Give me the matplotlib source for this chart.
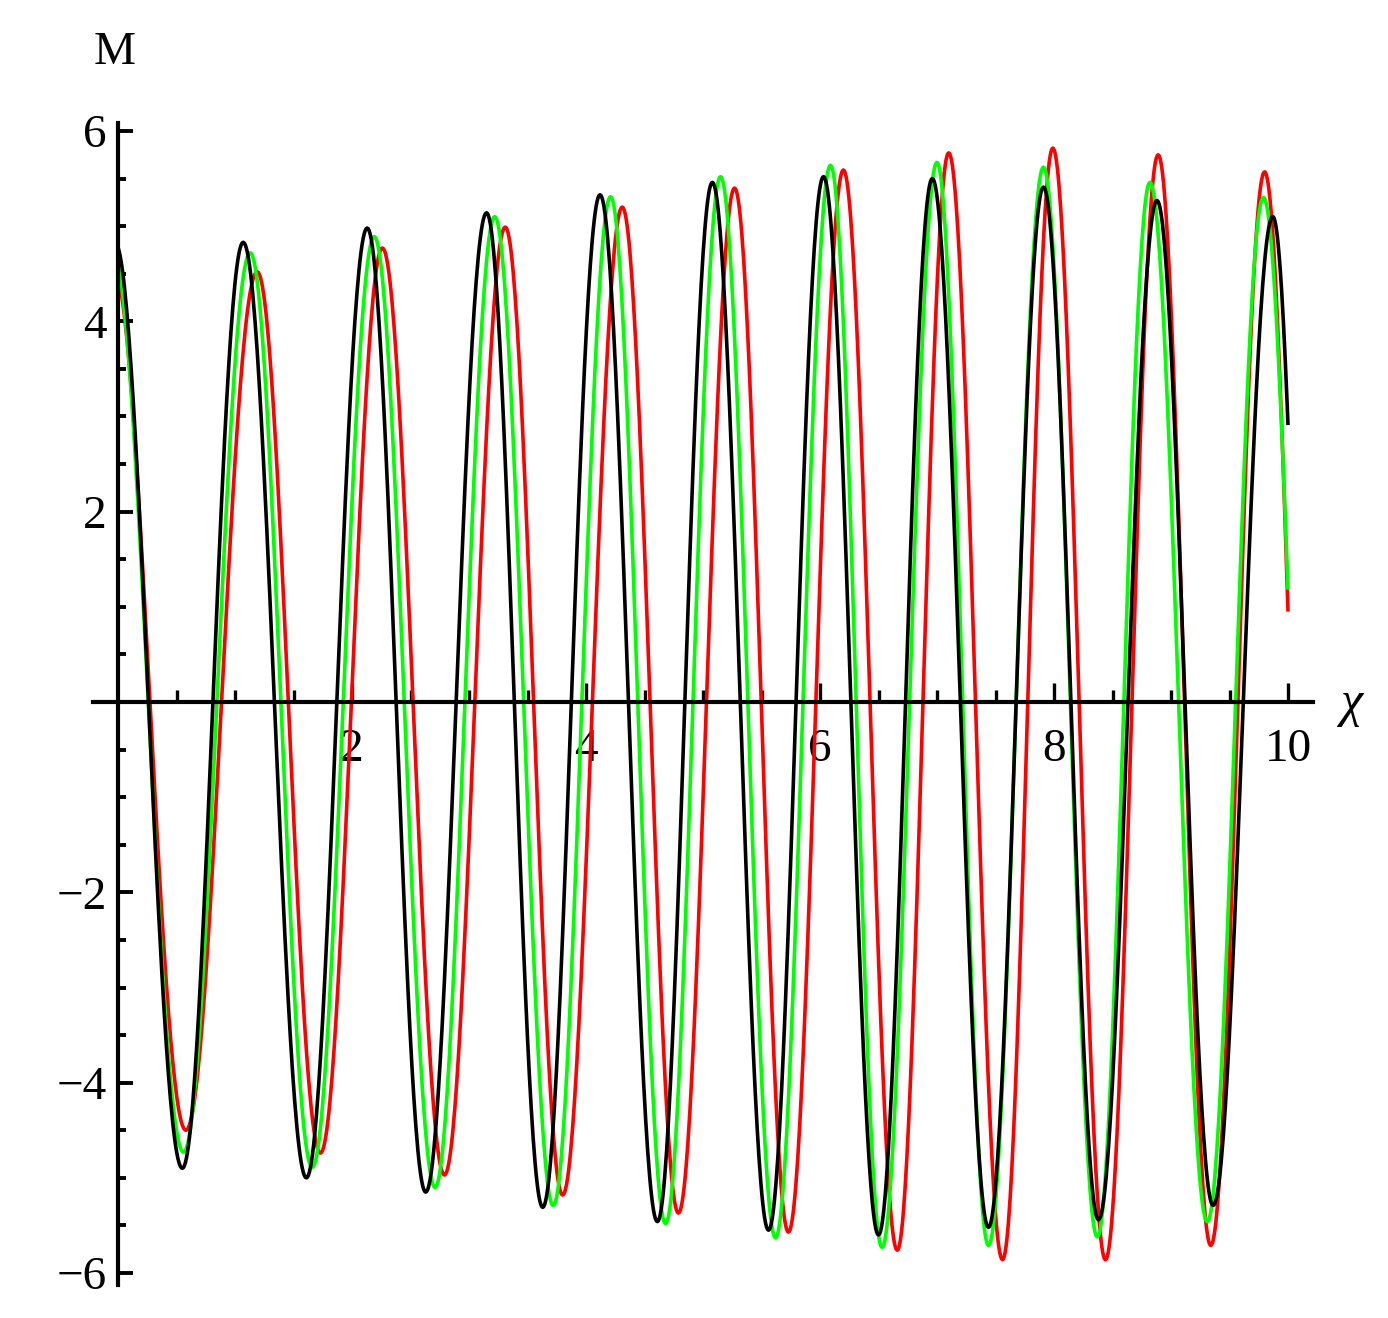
import numpy as np
import matplotlib
matplotlib.use("Agg")
import matplotlib.pyplot as plt
from matplotlib.ticker import FixedLocator

# ---- data (extrema of each curve, alternating trough/peak) ----
x_start, x_end = 0.0, 10.0

black_start, black_end = 4.78, 2.91
black_ext_x = [0.55, 1.07, 1.61, 2.13, 2.63, 3.15, 3.63, 4.12, 4.61, 5.08,
               5.56, 6.03, 6.50, 6.96, 7.44, 7.91, 8.38, 8.88, 9.36, 9.87]
black_ext_y = [-4.90, 4.83, -5.00, 4.98, -5.15, 5.14, -5.31, 5.33, -5.46, 5.46,
               -5.55, 5.52, -5.60, 5.50, -5.52, 5.41, -5.44, 5.27, -5.29, 5.10]

green_start, green_end = 4.60, 1.18
green_ext_x = [0.56, 1.13, 1.66, 2.19, 2.71, 3.22, 3.72, 4.21, 4.68, 5.15,
               5.62, 6.09, 6.53, 7.00, 7.44, 7.91, 8.37, 8.82, 9.31, 9.79]
green_ext_y = [-4.73, 4.72, -4.89, 4.89, -5.10, 5.10, -5.29, 5.31, -5.48, 5.52,
               -5.63, 5.64, -5.73, 5.67, -5.71, 5.62, -5.62, 5.46, -5.46, 5.30]

red_start, red_end = 4.45, 0.95
red_ext_x = [0.58, 1.19, 1.73, 2.26, 2.79, 3.31, 3.80, 4.31, 4.79, 5.27,
             5.73, 6.20, 6.66, 7.10, 7.56, 7.99, 8.44, 8.89, 9.34, 9.80]
red_ext_y = [-4.50, 4.52, -4.74, 4.77, -4.97, 4.99, -5.18, 5.20, -5.37, 5.40,
             -5.57, 5.59, -5.76, 5.77, -5.86, 5.82, -5.86, 5.75, -5.71, 5.57]

x_major = [2, 4, 6, 8, 10]
x_labels = ["2", "4", "6", "8", "10"]
y_major = [-6, -4, -2, 2, 4, 6]
y_labels = ["\u22126", "\u22124", "\u22122", "2", "4", "6"]


def smooth_curve(ys, ye, ex, ey, n=60):
    """Join the read extrema with half-cosine arcs (shape of the oscillation)."""
    xs_all, ys_all = [], []
    # start segment: from x_start (value ys) to first extremum (a trough)
    mid = (ey[0] + ey[1]) / 2
    amp = abs(ey[1] - ey[0]) / 2
    th0 = np.arccos(np.clip((ys - mid) / amp, -1, 1))
    t = np.linspace(0, 1, n)
    xs_all.append(x_start + (ex[0] - x_start) * t)
    ys_all.append(mid + amp * np.cos(th0 + (np.pi - th0) * t))
    for i in range(len(ex) - 1):
        x0, x1 = ex[i], ex[i + 1]
        y0, y1 = ey[i], ey[i + 1]
        t = np.linspace(0, 1, n)[1:]
        xs_all.append(x0 + (x1 - x0) * t)
        ys_all.append((y0 + y1) / 2 + (y0 - y1) / 2 * np.cos(np.pi * t))
    # end segment: from last extremum to x_end (value ye)
    mid = (ey[-1] + ey[-2]) / 2
    amp = abs(ey[-1] - ey[-2]) / 2
    sgn = 1 if ey[-1] > ey[-2] else -1
    the = np.arccos(np.clip(sgn * (ye - mid) / amp, -1, 1))
    t = np.linspace(0, 1, n)[1:]
    xs_all.append(ex[-1] + (x_end - ex[-1]) * t)
    ys_all.append(mid + sgn * amp * np.cos(the * t))
    return np.concatenate(xs_all), np.concatenate(ys_all)


W, H = 1388, 1318
fig = plt.figure(figsize=(W / 100, H / 100), dpi=100)
x_left_px, x_right_px = 93, 1313
y_top_px, y_bot_px = 123, 1285
ax = fig.add_axes([x_left_px / W, 1 - y_bot_px / H,
                   (x_right_px - x_left_px) / W, (y_bot_px - y_top_px) / H])

xpx0, xscale = 118, 117.0
ypx0, yscale = 702, 95.17
ax.set_xlim((x_left_px - xpx0) / xscale, (x_right_px - xpx0) / xscale)
ax.set_ylim((ypx0 - y_bot_px) / yscale, (ypx0 - y_top_px) / yscale)

lw = 2.6
for (s, e, ex, ey, col) in [
    (red_start, red_end, red_ext_x, red_ext_y, (1, 0, 0)),
    (green_start, green_end, green_ext_x, green_ext_y, (0, 1, 0)),
    (black_start, black_end, black_ext_x, black_ext_y, (0, 0, 0)),
]:
    xx, yy = smooth_curve(s, e, ex, ey)
    ax.plot(xx, yy, color=col, lw=lw, solid_capstyle="butt", zorder=3)

for side in ["top", "right"]:
    ax.spines[side].set_visible(False)
ax.spines["left"].set_position(("data", 0))
ax.spines["bottom"].set_position(("data", 0))
for side in ["left", "bottom"]:
    ax.spines[side].set_linewidth(3.0)
    ax.spines[side].set_zorder(4)

ax.xaxis.set_major_locator(FixedLocator(x_major))
ax.yaxis.set_major_locator(FixedLocator(y_major))
ax.set_xticklabels(x_labels)
ax.set_yticklabels(y_labels)
x_minor = [v * 0.5 for v in range(1, 20) if (v * 0.5) % 2 != 0]
y_minor = [v * 0.5 for v in range(-12, 13) if v != 0 and (v * 0.5) % 2 != 0]
ax.xaxis.set_minor_locator(FixedLocator(x_minor))
ax.yaxis.set_minor_locator(FixedLocator(y_minor))

font = "Liberation Serif"
ax.tick_params(axis="x", which="major", direction="in", length=14, width=2.4, pad=19)
ax.tick_params(axis="x", which="minor", direction="in", length=8.5, width=2.4)
ax.tick_params(axis="y", which="major", direction="in", length=10.5, width=2.8, pad=8)
ax.tick_params(axis="y", which="minor", direction="in", length=6, width=2.8)
for lab in ax.get_xticklabels() + ax.get_yticklabels():
    lab.set_fontfamily(font)
    lab.set_fontsize(34)

fig.text(115 / W, 1 - 53 / H, "M", family=font, fontsize=34, ha="center", va="center")
fig.text(1352 / W, 1 - 704 / H, "\u03c7", family=font, style="italic", fontsize=36,
         ha="center", va="center")

fig.savefig("out.png", dpi=100)
